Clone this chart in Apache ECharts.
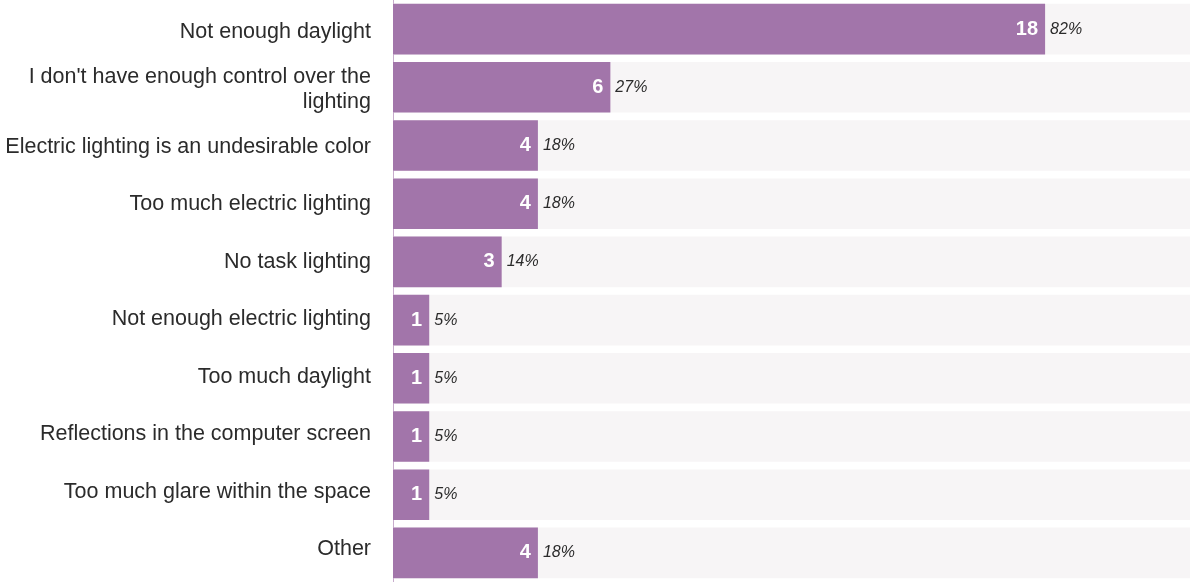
<!DOCTYPE html>
<html>
<head>
<meta charset="utf-8">
<style>
  html, body { margin: 0; padding: 0; background: #ffffff; }
  #chart { width: 1190px; height: 582px; }
</style>
<script src="https://cdn.jsdelivr.net/npm/echarts@6/dist/echarts.min.js"></script>
</head>
<body>
<div id="chart"></div>
<script>
// Reported lighting issues (number of respondents out of 22)
const categories = [
  'Not enough daylight',
  "I don't have enough control over the\nlighting",
  'Electric lighting is an undesirable color',
  'Too much electric lighting',
  'No task lighting',
  'Not enough electric lighting',
  'Too much daylight',
  'Reflections in the computer screen',
  'Too much glare within the space',
  'Other'
];
const counts = [18, 6, 4, 4, 3, 1, 1, 1, 1, 4];
const percents = ['82%', '27%', '18%', '18%', '14%', '5%', '5%', '5%', '5%', '18%'];
const totalRespondents = 22;

const FONT = '"Liberation Sans", Arial, sans-serif';
const BAR = '#a275aa';
const TRACK = '#f7f5f6';
const TEXT = '#2b2b2b';

const chart = echarts.init(document.getElementById('chart'), null, { renderer: 'canvas' });

chart.setOption({
  animation: false,
  backgroundColor: '#ffffff',
  grid: [
    // bars
    { left: 393, right: 0, top: -1, bottom: -4, containLabel: false },
    // category text column
    { left: 393, right: 0, top: 3, bottom: 4, containLabel: false }
  ],
  xAxis: [
    { type: 'value', gridIndex: 0, min: 0, max: totalRespondents, show: false },
    { type: 'value', gridIndex: 1, min: 0, max: totalRespondents, show: false }
  ],
  yAxis: [
    {
      type: 'category', gridIndex: 0, data: categories, inverse: true,
      axisLine: { show: true, lineStyle: { color: BAR, width: 1, opacity: 0.6 } },
      axisTick: { show: false },
      axisLabel: { show: false },
      splitLine: { show: false }
    },
    {
      type: 'category', gridIndex: 1, data: categories, inverse: true,
      axisLine: { show: false },
      axisTick: { show: false },
      splitLine: { show: false },
      axisLabel: {
        show: true, margin: 22, align: 'right',
        fontFamily: FONT, fontSize: 21.5, color: TEXT, lineHeight: 25
      }
    }
  ],
  series: [
    {
      type: 'bar', xAxisIndex: 0, yAxisIndex: 0,
      data: counts,
      barCategoryGap: '13%',
      itemStyle: { color: BAR },
      showBackground: true,
      backgroundStyle: { color: TRACK },
      label: {
        show: true, position: 'insideRight', distance: 7,
        color: '#ffffff', fontFamily: FONT, fontSize: 20, fontWeight: 'bold'
      }
    },
    {
      // share of respondents, placed just past the end of each bar
      type: 'scatter', xAxisIndex: 0, yAxisIndex: 0,
      symbolSize: 0,
      itemStyle: { opacity: 1 },
      data: counts.map((v, i) => [v, i]),
      label: {
        show: true, position: 'right', distance: 5, opacity: 1,
        formatter: p => percents[p.dataIndex],
        color: TEXT, fontFamily: FONT, fontSize: 16, fontStyle: 'italic'
      },
      silent: true
    }
  ]
});
</script>
</body>
</html>
